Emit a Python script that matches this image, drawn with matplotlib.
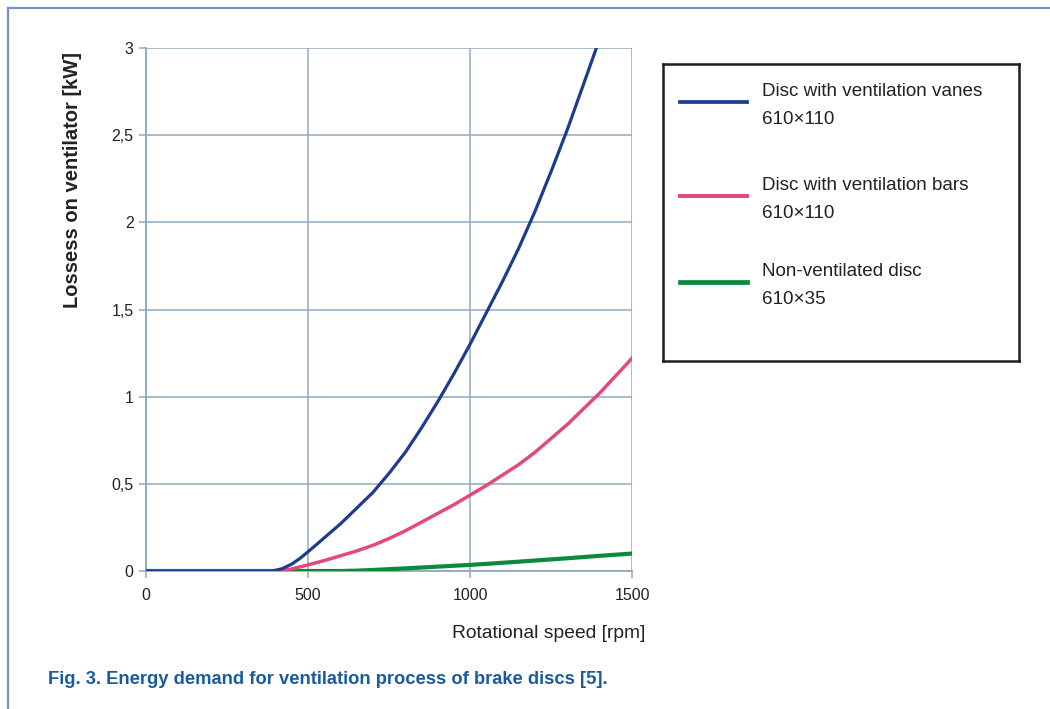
import matplotlib
matplotlib.use('Agg')
import matplotlib.pyplot as plt
from matplotlib.lines import Line2D

# values (rpm, kW)
speed_vanes = [0, 390, 420, 450, 475, 500, 550, 600, 650, 700, 750, 800, 850, 900, 950, 1000,
               1050, 1100, 1150, 1200, 1250, 1300, 1350, 1390]
loss_vanes = [0, 0, 0.013, 0.04, 0.072, 0.11, 0.19, 0.27, 0.36, 0.45, 0.56, 0.68, 0.82, 0.97, 1.13, 1.30,
              1.48, 1.66, 1.85, 2.06, 2.29, 2.53, 2.79, 3.00]

speed_bars = [0, 410, 450, 500, 550, 600, 650, 700, 750, 800, 850, 900, 950, 1000,
              1050, 1100, 1150, 1200, 1250, 1300, 1350, 1400, 1450, 1500]
loss_bars = [0, 0, 0.012, 0.035, 0.06, 0.087, 0.115, 0.147, 0.186, 0.23, 0.28, 0.33, 0.38, 0.435,
             0.49, 0.55, 0.61, 0.68, 0.76, 0.84, 0.93, 1.02, 1.12, 1.22]

speed_solid = [0, 600, 650, 700, 800, 900, 1000, 1100, 1200, 1300, 1400, 1500]
loss_solid = [0, 0, 0.002, 0.006, 0.015, 0.025, 0.035, 0.047, 0.06, 0.073, 0.087, 0.10]

series_names = ['Disc with ventilation vanes', 'Disc with ventilation bars', 'Non-ventilated disc']
series_sizes = ['610×110', '610×110', '610×35']
series_colors = ['#1f3c8c', '#e2497c', '#0b8a3e']
series_widths = [2.3, 2.5, 3.0]

x_ticks = [0, 500, 1000, 1500]
y_ticks = [0, 0.5, 1, 1.5, 2, 2.5, 3]
y_labels = ['0', '0,5', '1', '1,5', '2', '2,5', '3']

plt.rcParams['font.family'] = ['Liberation Sans', 'DejaVu Sans']
grid_c = '#8fa9bb'
text_c = '#222222'

fig = plt.figure(figsize=(10.5, 7.09), dpi=100)
ax = fig.add_axes([146 / 1050, 1 - 571 / 709, 486 / 1050, 523 / 709])

curves = [(speed_vanes, loss_vanes), (speed_bars, loss_bars), (speed_solid, loss_solid)]
for (xs, ys), c, w in list(zip(curves, series_colors, series_widths))[::-1]:
    ax.plot(xs, ys, color=c, lw=w, solid_joinstyle='round', zorder=3)

ax.set_xlim(0, 1500)
ax.set_ylim(0, 3)
ax.set_xticks(x_ticks)
ax.set_yticks(y_ticks)
ax.set_yticklabels(y_labels)
ax.grid(True, color=grid_c, lw=1.1)
for s in ['top', 'right']:
    ax.spines[s].set_visible(False)
for s in ['left', 'bottom']:
    ax.spines[s].set_color(grid_c)
    ax.spines[s].set_linewidth(1.3)
ax.tick_params(length=5, width=1.1, color=grid_c, labelsize=11.5, labelcolor=text_c)
ax.tick_params(axis='y', pad=4)
ax.tick_params(axis='x', pad=7)

ax.set_ylabel('Lossess on ventilator [kW]', fontsize=14.5, fontweight='bold', color=text_c)
ax.yaxis.set_label_coords(-0.132, 0.748)
fig.text(645 / 1050, 1 - 633 / 709, 'Rotational speed [rpm]', fontsize=13.9, color=text_c,
         ha='right', va='center')

# legend box
lg = fig.add_axes([663 / 1050, 1 - 361 / 709, 356 / 1050, 297 / 709])
lg.set_xlim(0, 1)
lg.set_ylim(1, 0)
lg.set_xticks([])
lg.set_yticks([])
for s in lg.spines.values():
    s.set_color('#1e1e1e')
    s.set_linewidth(1.8)
handle_y = [0.127, 0.444, 0.734]
for hy, name, size, c, w in zip(handle_y, series_names, series_sizes, series_colors, series_widths):
    lg.plot([0.048, 0.236], [hy, hy], color=c, lw=w + 0.4)
    lg.text(0.278, hy - 0.036, name, fontsize=13.6, color=text_c, va='center')
    lg.text(0.278, hy + 0.06, size, fontsize=13.6, color=text_c, va='center')

# page border
border = '#6e95c8'
fig.add_artist(Line2D([8 / 1050, 1], [1 - 8 / 709] * 2, color=border, lw=1.6))
fig.add_artist(Line2D([8 / 1050] * 2, [0, 1 - 8 / 709], color=border, lw=1.6))

fig.text(48 / 1050, 1 - 680 / 709, 'Fig. 3. Energy demand for ventilation process of brake discs [5].',
         fontsize=13.2, fontweight='bold', color='#1a5b9c', va='center')

fig.savefig('out.png', dpi=100)
